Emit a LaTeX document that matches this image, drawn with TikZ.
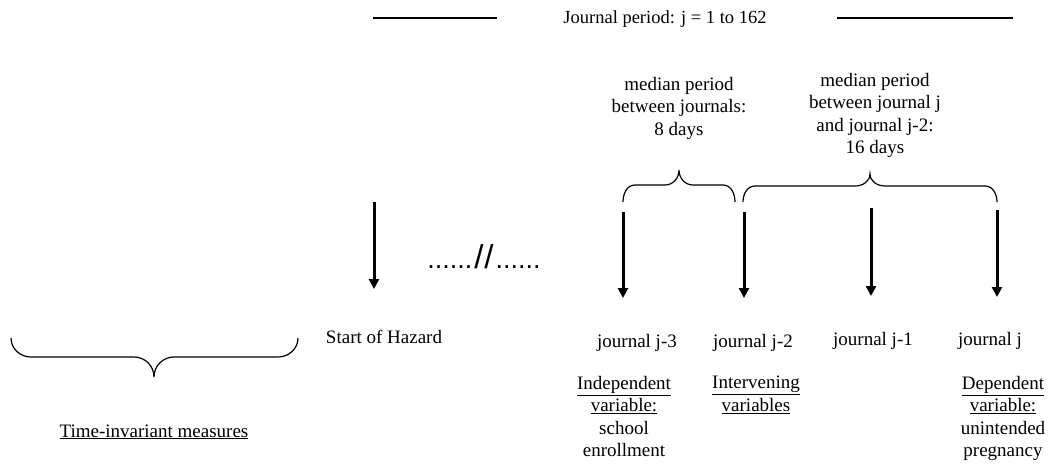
\documentclass[tikz,border=0pt]{standalone}
\usepackage{fontspec}
\setmainfont{Liberation Serif}
\newfontfamily\dotsfont{Liberation Sans}
\usetikzlibrary{arrows.meta}
\begin{document}
\begin{tikzpicture}[x=1pt,y=-1pt,
  lbl/.style={inner sep=0pt, font=\fontsize{19}{22.5}\selectfont},
  slbl/.style={lbl, anchor=base},
  mlbl/.style={lbl, align=center, anchor=north},
  downarrow/.style={line width=3pt, -{Triangle[width=10pt,length=10pt]}},
  bracepath/.style={line width=1.2pt},
  rulepath/.style={line width=1.3pt}]
\useasboundingbox (0,0) rectangle (1053,468);

% title
\node[inner sep=0pt, anchor=base, font=\fontsize{18.5}{22}\selectfont] (title) at (665,24) {Journal period: j = 1 to 162};
\coordinate (tl1) at (373,18); \coordinate (tl2) at (497,18);
\coordinate (tr1) at (837,18); \coordinate (tr2) at (1013,18);
\draw[rulepath] (tl1) -- (tl2);
\draw[rulepath] (tr1) -- (tr2);

% median period texts
\node[mlbl] (med1) at (679,77) {median period\\between journals:\\8 days};
\node[mlbl] (med2) at (875,73) {median period\\between journal j\\and journal j-2:\\16 days};

% top braces
\draw[bracepath] (623,202) to[out=90,in=180] (635,185) -- (665,185)
  to[out=0,in=-90] (679,170) to[out=-90,in=180] (693,185) -- (723,185)
  to[out=0,in=90] (735,202);
\draw[bracepath] (743,202) to[out=90,in=180] (755,186) -- (855,186)
  to[out=0,in=-90] (870,174) to[out=-90,in=180] (885,186) -- (985,186)
  to[out=0,in=90] (997,202);

% arrows
\coordinate (s0) at (374,202); \coordinate (e0) at (374,289);
\coordinate (s1) at (623,212); \coordinate (e1) at (623,298);
\coordinate (s2) at (744,212); \coordinate (e2) at (744,298);
\coordinate (s3) at (871,208); \coordinate (e3) at (871,296);
\coordinate (s4) at (997,210); \coordinate (e4) at (997,297);
\draw[downarrow] (s0) -- (e0);
\draw[downarrow] (s1) -- (e1);
\draw[downarrow] (s2) -- (e2);
\draw[downarrow] (s3) -- (e3);
\draw[downarrow] (s4) -- (e4);

% dots
\node[inner sep=0pt, anchor=base, font=\dotsfont\fontsize{27}{30}\selectfont] (gap) at (484,269)
  {......{\fontsize{33}{34}\selectfont\kern2pt/\kern1pt/\kern2pt}......};

% labels
\node[slbl] (hazard) at (384,343) {Start of Hazard};
\node[slbl] (j3) at (637,347) {journal j-3};
\node[slbl] (j2) at (753,347) {journal j-2};
\node[slbl] (j1) at (873,345) {journal j-1};
\node[slbl] (j0) at (990,345) {journal j};

\node[mlbl] (indep) at (624,376) {\underline{Independent}\\\underline{variable:}\\school\\enrollment};
\node[mlbl] (interv) at (756,376) {\underline{Intervening}\\\underline{variables}};
\node[mlbl] (dep) at (1003,376) {\underline{Dependent}\\\underline{variable:}\\unintended\\pregnancy};

% bottom brace
\draw[bracepath] (11,338) to[out=-90,in=180] (31,357) -- (134,357)
  to[out=0,in=90] (154,377) to[out=90,in=180] (174,357) -- (278,357)
  to[out=0,in=-90] (298,338);
\node[slbl] (tim) at (154,437) {\underline{Time-invariant measures}};
\end{tikzpicture}
\end{document}
